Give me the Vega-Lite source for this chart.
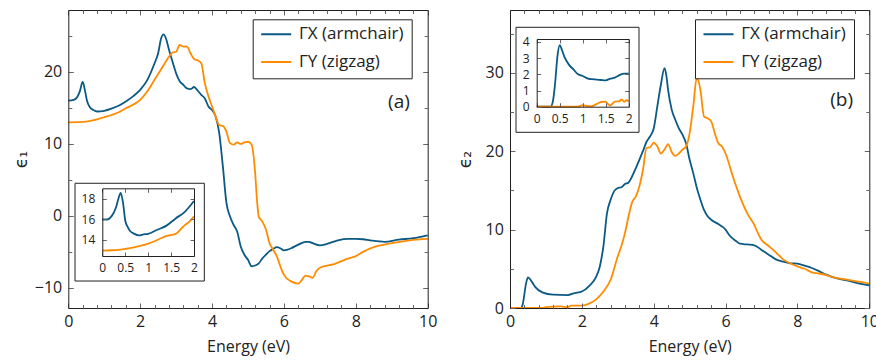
{
"$schema": "https://vega.github.io/schema/vega-lite/v6.json",
"width": 876, "height": 360, "autosize": {"type": "none"}, "padding": 0, "background": "white",
"datasets": {
"a": [
{"s":"ΓX (armchair)","e":0,"v":16.0},{"s":"ΓX (armchair)","e":0.15,"v":16.1},{"s":"ΓX (armchair)","e":0.25,"v":16.5},{"s":"ΓX (armchair)","e":0.32,"v":17.3},{"s":"ΓX (armchair)","e":0.4,"v":18.6},{"s":"ΓX (armchair)","e":0.46,"v":17.5},{"s":"ΓX (armchair)","e":0.52,"v":16.0},{"s":"ΓX (armchair)","e":0.6,"v":15.1},{"s":"ΓX (armchair)","e":0.7,"v":14.7},{"s":"ΓX (armchair)","e":0.8,"v":14.5},{"s":"ΓX (armchair)","e":1.0,"v":14.6},{"s":"ΓX (armchair)","e":1.2,"v":14.9},{"s":"ΓX (armchair)","e":1.4,"v":15.3},{"s":"ΓX (armchair)","e":1.6,"v":15.9},{"s":"ΓX (armchair)","e":1.8,"v":16.6},{"s":"ΓX (armchair)","e":2.0,"v":17.5},{"s":"ΓX (armchair)","e":2.2,"v":18.9},{"s":"ΓX (armchair)","e":2.4,"v":21.2},{"s":"ΓX (armchair)","e":2.5,"v":22.6},{"s":"ΓX (armchair)","e":2.58,"v":24.6},{"s":"ΓX (armchair)","e":2.65,"v":25.2},{"s":"ΓX (armchair)","e":2.72,"v":24.6},{"s":"ΓX (armchair)","e":2.8,"v":23.1},{"s":"ΓX (armchair)","e":2.9,"v":21.4},{"s":"ΓX (armchair)","e":3.0,"v":19.8},{"s":"ΓX (armchair)","e":3.1,"v":18.7},{"s":"ΓX (armchair)","e":3.2,"v":18.2},{"s":"ΓX (armchair)","e":3.3,"v":17.7},{"s":"ΓX (armchair)","e":3.4,"v":17.6},{"s":"ΓX (armchair)","e":3.5,"v":17.9},{"s":"ΓX (armchair)","e":3.6,"v":17.4},{"s":"ΓX (armchair)","e":3.7,"v":16.8},{"s":"ΓX (armchair)","e":3.8,"v":16.3},{"s":"ΓX (armchair)","e":3.9,"v":15.2},{"s":"ΓX (armchair)","e":4.0,"v":14.7},{"s":"ΓX (armchair)","e":4.1,"v":13.8},{"s":"ΓX (armchair)","e":4.2,"v":11.5},{"s":"ΓX (armchair)","e":4.3,"v":6.9},{"s":"ΓX (armchair)","e":4.4,"v":1.8},{"s":"ΓX (armchair)","e":4.5,"v":-0.1},{"s":"ΓX (armchair)","e":4.6,"v":-1.25},{"s":"ΓX (armchair)","e":4.7,"v":-2.2},{"s":"ΓX (armchair)","e":4.8,"v":-4.3},{"s":"ΓX (armchair)","e":4.9,"v":-5.4},{"s":"ΓX (armchair)","e":5.0,"v":-6.1},{"s":"ΓX (armchair)","e":5.1,"v":-7.0},{"s":"ΓX (armchair)","e":5.2,"v":-6.9},{"s":"ΓX (armchair)","e":5.3,"v":-6.6},{"s":"ΓX (armchair)","e":5.4,"v":-5.9},{"s":"ΓX (armchair)","e":5.5,"v":-5.4},{"s":"ΓX (armchair)","e":5.6,"v":-4.9},{"s":"ΓX (armchair)","e":5.7,"v":-4.6},{"s":"ΓX (armchair)","e":5.8,"v":-4.35},{"s":"ΓX (armchair)","e":5.9,"v":-4.5},{"s":"ΓX (armchair)","e":6.0,"v":-4.8},{"s":"ΓX (armchair)","e":6.1,"v":-4.7},{"s":"ΓX (armchair)","e":6.2,"v":-4.5},{"s":"ΓX (armchair)","e":6.4,"v":-4.0},{"s":"ΓX (armchair)","e":6.6,"v":-3.6},{"s":"ΓX (armchair)","e":6.7,"v":-3.6},{"s":"ΓX (armchair)","e":6.8,"v":-3.8},{"s":"ΓX (armchair)","e":7.0,"v":-4.1},{"s":"ΓX (armchair)","e":7.2,"v":-3.9},{"s":"ΓX (armchair)","e":7.5,"v":-3.4},{"s":"ΓX (armchair)","e":7.8,"v":-3.2},{"s":"ΓX (armchair)","e":8.0,"v":-3.2},{"s":"ΓX (armchair)","e":8.2,"v":-3.25},{"s":"ΓX (armchair)","e":8.4,"v":-3.4},{"s":"ΓX (armchair)","e":8.8,"v":-3.6},{"s":"ΓX (armchair)","e":9.2,"v":-3.3},{"s":"ΓX (armchair)","e":9.6,"v":-3.1},{"s":"ΓX (armchair)","e":10,"v":-2.7},
{"s":"ΓY (zigzag)","e":0,"v":13.0},{"s":"ΓY (zigzag)","e":0.5,"v":13.1},{"s":"ΓY (zigzag)","e":1.0,"v":13.7},{"s":"ΓY (zigzag)","e":1.4,"v":14.4},{"s":"ΓY (zigzag)","e":1.6,"v":14.95},{"s":"ΓY (zigzag)","e":2.0,"v":16.1},{"s":"ΓY (zigzag)","e":2.2,"v":17.3},{"s":"ΓY (zigzag)","e":2.4,"v":18.9},{"s":"ΓY (zigzag)","e":2.6,"v":20.5},{"s":"ΓY (zigzag)","e":2.8,"v":22.1},{"s":"ΓY (zigzag)","e":2.9,"v":22.7},{"s":"ΓY (zigzag)","e":3.0,"v":22.8},{"s":"ΓY (zigzag)","e":3.1,"v":23.75},{"s":"ΓY (zigzag)","e":3.2,"v":23.5},{"s":"ΓY (zigzag)","e":3.3,"v":23.5},{"s":"ΓY (zigzag)","e":3.4,"v":22.6},{"s":"ΓY (zigzag)","e":3.5,"v":21.8},{"s":"ΓY (zigzag)","e":3.6,"v":21.6},{"s":"ΓY (zigzag)","e":3.7,"v":21.2},{"s":"ΓY (zigzag)","e":3.8,"v":18.4},{"s":"ΓY (zigzag)","e":3.9,"v":16.6},{"s":"ΓY (zigzag)","e":4.0,"v":15.2},{"s":"ΓY (zigzag)","e":4.1,"v":13.8},{"s":"ΓY (zigzag)","e":4.2,"v":12.6},{"s":"ΓY (zigzag)","e":4.3,"v":12.5},{"s":"ΓY (zigzag)","e":4.4,"v":11.7},{"s":"ΓY (zigzag)","e":4.5,"v":10.1},{"s":"ΓY (zigzag)","e":4.6,"v":9.9},{"s":"ΓY (zigzag)","e":4.7,"v":10.2},{"s":"ΓY (zigzag)","e":4.8,"v":10.0},{"s":"ΓY (zigzag)","e":4.9,"v":10.2},{"s":"ΓY (zigzag)","e":5.0,"v":10.3},{"s":"ΓY (zigzag)","e":5.1,"v":9.9},{"s":"ΓY (zigzag)","e":5.2,"v":5.9},{"s":"ΓY (zigzag)","e":5.25,"v":2.2},{"s":"ΓY (zigzag)","e":5.3,"v":-0.1},{"s":"ΓY (zigzag)","e":5.4,"v":-0.8},{"s":"ΓY (zigzag)","e":5.5,"v":-1.9},{"s":"ΓY (zigzag)","e":5.6,"v":-3.8},{"s":"ΓY (zigzag)","e":5.7,"v":-4.7},{"s":"ΓY (zigzag)","e":5.8,"v":-5.6},{"s":"ΓY (zigzag)","e":5.9,"v":-7.0},{"s":"ΓY (zigzag)","e":6.0,"v":-8.2},{"s":"ΓY (zigzag)","e":6.2,"v":-9.1},{"s":"ΓY (zigzag)","e":6.4,"v":-9.4},{"s":"ΓY (zigzag)","e":6.5,"v":-8.9},{"s":"ΓY (zigzag)","e":6.6,"v":-8.3},{"s":"ΓY (zigzag)","e":6.7,"v":-8.4},{"s":"ΓY (zigzag)","e":6.8,"v":-8.6},{"s":"ΓY (zigzag)","e":6.9,"v":-7.7},{"s":"ΓY (zigzag)","e":7.0,"v":-7.2},{"s":"ΓY (zigzag)","e":7.4,"v":-6.7},{"s":"ΓY (zigzag)","e":7.8,"v":-5.9},{"s":"ΓY (zigzag)","e":8.0,"v":-5.6},{"s":"ΓY (zigzag)","e":8.2,"v":-5.0},{"s":"ΓY (zigzag)","e":8.5,"v":-4.35},{"s":"ΓY (zigzag)","e":8.8,"v":-4.0},{"s":"ΓY (zigzag)","e":9.0,"v":-3.8},{"s":"ΓY (zigzag)","e":9.5,"v":-3.4},{"s":"ΓY (zigzag)","e":10,"v":-3.2}
],
"ai": [
{"s":"ΓX (armchair)","e":0,"v":16.0},{"s":"ΓX (armchair)","e":0.1,"v":16.0},{"s":"ΓX (armchair)","e":0.2,"v":16.3},{"s":"ΓX (armchair)","e":0.3,"v":17.2},{"s":"ΓX (armchair)","e":0.35,"v":18.0},{"s":"ΓX (armchair)","e":0.4,"v":18.6},{"s":"ΓX (armchair)","e":0.45,"v":17.7},{"s":"ΓX (armchair)","e":0.5,"v":15.9},{"s":"ΓX (armchair)","e":0.55,"v":15.3},{"s":"ΓX (armchair)","e":0.6,"v":14.9},{"s":"ΓX (armchair)","e":0.7,"v":14.6},{"s":"ΓX (armchair)","e":0.8,"v":14.45},{"s":"ΓX (armchair)","e":0.9,"v":14.55},{"s":"ΓX (armchair)","e":1.0,"v":14.6},{"s":"ΓX (armchair)","e":1.2,"v":15.0},{"s":"ΓX (armchair)","e":1.4,"v":15.4},{"s":"ΓX (armchair)","e":1.6,"v":16.1},{"s":"ΓX (armchair)","e":1.8,"v":16.75},{"s":"ΓX (armchair)","e":2.0,"v":17.8},
{"s":"ΓY (zigzag)","e":0,"v":12.97},{"s":"ΓY (zigzag)","e":0.2,"v":13.0},{"s":"ΓY (zigzag)","e":0.4,"v":13.07},{"s":"ΓY (zigzag)","e":0.6,"v":13.2},{"s":"ΓY (zigzag)","e":0.8,"v":13.4},{"s":"ΓY (zigzag)","e":1.0,"v":13.65},{"s":"ΓY (zigzag)","e":1.2,"v":14.0},{"s":"ΓY (zigzag)","e":1.4,"v":14.4},{"s":"ΓY (zigzag)","e":1.6,"v":14.6},{"s":"ΓY (zigzag)","e":1.7,"v":15.0},{"s":"ΓY (zigzag)","e":1.8,"v":15.45},{"s":"ΓY (zigzag)","e":1.9,"v":15.8},{"s":"ΓY (zigzag)","e":2.0,"v":16.3}
],
"b": [
{"s":"ΓX (armchair)","e":0,"v":0},{"s":"ΓX (armchair)","e":0.3,"v":0},{"s":"ΓX (armchair)","e":0.35,"v":0.4},{"s":"ΓX (armchair)","e":0.45,"v":3.2},{"s":"ΓX (armchair)","e":0.5,"v":3.9},{"s":"ΓX (armchair)","e":0.6,"v":3.4},{"s":"ΓX (armchair)","e":0.7,"v":2.7},{"s":"ΓX (armchair)","e":0.9,"v":2.0},{"s":"ΓX (armchair)","e":1.2,"v":1.7},{"s":"ΓX (armchair)","e":1.6,"v":1.65},{"s":"ΓX (armchair)","e":1.8,"v":1.9},{"s":"ΓX (armchair)","e":2.0,"v":2.1},{"s":"ΓX (armchair)","e":2.2,"v":2.8},{"s":"ΓX (armchair)","e":2.4,"v":4.0},{"s":"ΓX (armchair)","e":2.5,"v":5.3},{"s":"ΓX (armchair)","e":2.6,"v":7.9},{"s":"ΓX (armchair)","e":2.7,"v":12.1},{"s":"ΓX (armchair)","e":2.8,"v":13.8},{"s":"ΓX (armchair)","e":2.9,"v":14.9},{"s":"ΓX (armchair)","e":3.0,"v":15.3},{"s":"ΓX (armchair)","e":3.1,"v":15.4},{"s":"ΓX (armchair)","e":3.2,"v":15.8},{"s":"ΓX (armchair)","e":3.3,"v":16.0},{"s":"ΓX (armchair)","e":3.4,"v":16.8},{"s":"ΓX (armchair)","e":3.5,"v":17.8},{"s":"ΓX (armchair)","e":3.6,"v":18.9},{"s":"ΓX (armchair)","e":3.7,"v":20.0},{"s":"ΓX (armchair)","e":3.8,"v":21.2},{"s":"ΓX (armchair)","e":3.9,"v":21.9},{"s":"ΓX (armchair)","e":4.0,"v":22.9},{"s":"ΓX (armchair)","e":4.1,"v":25.7},{"s":"ΓX (armchair)","e":4.2,"v":28.5},{"s":"ΓX (armchair)","e":4.3,"v":30.6},{"s":"ΓX (armchair)","e":4.35,"v":29.7},{"s":"ΓX (armchair)","e":4.4,"v":27.8},{"s":"ΓX (armchair)","e":4.5,"v":25.3},{"s":"ΓX (armchair)","e":4.6,"v":24.0},{"s":"ΓX (armchair)","e":4.7,"v":22.9},{"s":"ΓX (armchair)","e":4.8,"v":22.1},{"s":"ΓX (armchair)","e":4.9,"v":21.0},{"s":"ΓX (armchair)","e":5.0,"v":18.9},{"s":"ΓX (armchair)","e":5.1,"v":17.2},{"s":"ΓX (armchair)","e":5.2,"v":15.3},{"s":"ΓX (armchair)","e":5.3,"v":13.8},{"s":"ΓX (armchair)","e":5.4,"v":12.5},{"s":"ΓX (armchair)","e":5.5,"v":11.7},{"s":"ΓX (armchair)","e":5.6,"v":11.25},{"s":"ΓX (armchair)","e":5.8,"v":10.7},{"s":"ΓX (armchair)","e":5.9,"v":10.4},{"s":"ΓX (armchair)","e":6.0,"v":10.0},{"s":"ΓX (armchair)","e":6.1,"v":9.3},{"s":"ΓX (armchair)","e":6.3,"v":8.5},{"s":"ΓX (armchair)","e":6.4,"v":8.2},{"s":"ΓX (armchair)","e":6.6,"v":8.1},{"s":"ΓX (armchair)","e":6.8,"v":8.0},{"s":"ΓX (armchair)","e":7.0,"v":7.4},{"s":"ΓX (armchair)","e":7.2,"v":6.8},{"s":"ΓX (armchair)","e":7.4,"v":6.2},{"s":"ΓX (armchair)","e":7.6,"v":5.9},{"s":"ΓX (armchair)","e":7.8,"v":5.7},{"s":"ΓX (armchair)","e":8.0,"v":5.65},{"s":"ΓX (armchair)","e":8.2,"v":5.4},{"s":"ΓX (armchair)","e":8.4,"v":5.1},{"s":"ΓX (armchair)","e":8.6,"v":4.7},{"s":"ΓX (armchair)","e":8.8,"v":4.25},{"s":"ΓX (armchair)","e":9.0,"v":3.9},{"s":"ΓX (armchair)","e":9.4,"v":3.5},{"s":"ΓX (armchair)","e":9.8,"v":3.05},{"s":"ΓX (armchair)","e":10,"v":2.9},
{"s":"ΓY (zigzag)","e":0,"v":0},{"s":"ΓY (zigzag)","e":0.9,"v":0},{"s":"ΓY (zigzag)","e":1.0,"v":0.1},{"s":"ΓY (zigzag)","e":1.4,"v":0.2},{"s":"ΓY (zigzag)","e":1.6,"v":0.1},{"s":"ΓY (zigzag)","e":1.7,"v":0.3},{"s":"ΓY (zigzag)","e":2.0,"v":0.3},{"s":"ΓY (zigzag)","e":2.2,"v":0.55},{"s":"ΓY (zigzag)","e":2.4,"v":1.1},{"s":"ΓY (zigzag)","e":2.6,"v":2.1},{"s":"ΓY (zigzag)","e":2.8,"v":3.6},{"s":"ΓY (zigzag)","e":3.0,"v":6.6},{"s":"ΓY (zigzag)","e":3.1,"v":7.9},{"s":"ΓY (zigzag)","e":3.2,"v":9.55},{"s":"ΓY (zigzag)","e":3.3,"v":11.7},{"s":"ΓY (zigzag)","e":3.4,"v":13.5},{"s":"ΓY (zigzag)","e":3.5,"v":14.2},{"s":"ΓY (zigzag)","e":3.6,"v":15.5},{"s":"ΓY (zigzag)","e":3.7,"v":17.6},{"s":"ΓY (zigzag)","e":3.8,"v":20.4},{"s":"ΓY (zigzag)","e":3.9,"v":20.5},{"s":"ΓY (zigzag)","e":4.0,"v":21.1},{"s":"ΓY (zigzag)","e":4.1,"v":20.6},{"s":"ΓY (zigzag)","e":4.2,"v":19.7},{"s":"ΓY (zigzag)","e":4.3,"v":20.2},{"s":"ΓY (zigzag)","e":4.4,"v":20.9},{"s":"ΓY (zigzag)","e":4.5,"v":19.9},{"s":"ΓY (zigzag)","e":4.6,"v":19.4},{"s":"ΓY (zigzag)","e":4.7,"v":19.7},{"s":"ΓY (zigzag)","e":4.8,"v":20.2},{"s":"ΓY (zigzag)","e":4.9,"v":20.6},{"s":"ΓY (zigzag)","e":5.0,"v":22.3},{"s":"ΓY (zigzag)","e":5.1,"v":25.7},{"s":"ΓY (zigzag)","e":5.2,"v":29.4},{"s":"ΓY (zigzag)","e":5.3,"v":27.8},{"s":"ΓY (zigzag)","e":5.4,"v":24.4},{"s":"ΓY (zigzag)","e":5.5,"v":24.2},{"s":"ΓY (zigzag)","e":5.6,"v":23.8},{"s":"ΓY (zigzag)","e":5.7,"v":22.3},{"s":"ΓY (zigzag)","e":5.8,"v":21.0},{"s":"ΓY (zigzag)","e":5.9,"v":20.6},{"s":"ΓY (zigzag)","e":6.0,"v":19.7},{"s":"ΓY (zigzag)","e":6.2,"v":16.8},{"s":"ΓY (zigzag)","e":6.4,"v":14.2},{"s":"ΓY (zigzag)","e":6.6,"v":12.1},{"s":"ΓY (zigzag)","e":6.8,"v":10.6},{"s":"ΓY (zigzag)","e":6.9,"v":9.55},{"s":"ΓY (zigzag)","e":7.0,"v":8.7},{"s":"ΓY (zigzag)","e":7.2,"v":7.9},{"s":"ΓY (zigzag)","e":7.4,"v":7.1},{"s":"ΓY (zigzag)","e":7.6,"v":6.2},{"s":"ΓY (zigzag)","e":7.8,"v":5.7},{"s":"ΓY (zigzag)","e":8.0,"v":5.3},{"s":"ΓY (zigzag)","e":8.2,"v":5.0},{"s":"ΓY (zigzag)","e":8.4,"v":4.55},{"s":"ΓY (zigzag)","e":8.6,"v":4.4},{"s":"ΓY (zigzag)","e":8.8,"v":4.2},{"s":"ΓY (zigzag)","e":9.0,"v":3.9},{"s":"ΓY (zigzag)","e":9.4,"v":3.6},{"s":"ΓY (zigzag)","e":9.8,"v":3.3},{"s":"ΓY (zigzag)","e":10,"v":3.1}
],
"bi": [
{"s":"ΓX (armchair)","e":0,"v":0},{"s":"ΓX (armchair)","e":0.3,"v":0},{"s":"ΓX (armchair)","e":0.35,"v":0.3},{"s":"ΓX (armchair)","e":0.4,"v":1.45},{"s":"ΓX (armchair)","e":0.45,"v":3.1},{"s":"ΓX (armchair)","e":0.5,"v":3.8},{"s":"ΓX (armchair)","e":0.55,"v":3.5},{"s":"ΓX (armchair)","e":0.6,"v":3.1},{"s":"ΓX (armchair)","e":0.7,"v":2.6},{"s":"ΓX (armchair)","e":0.8,"v":2.3},{"s":"ΓX (armchair)","e":0.9,"v":2.0},{"s":"ΓX (armchair)","e":1.0,"v":1.9},{"s":"ΓX (armchair)","e":1.1,"v":1.75},{"s":"ΓX (armchair)","e":1.2,"v":1.7},{"s":"ΓX (armchair)","e":1.4,"v":1.65},{"s":"ΓX (armchair)","e":1.5,"v":1.63},{"s":"ΓX (armchair)","e":1.6,"v":1.73},{"s":"ΓX (armchair)","e":1.7,"v":1.8},{"s":"ΓX (armchair)","e":1.8,"v":1.95},{"s":"ΓX (armchair)","e":1.9,"v":2.05},{"s":"ΓX (armchair)","e":2.0,"v":2.05},
{"s":"ΓY (zigzag)","e":0,"v":0},{"s":"ΓY (zigzag)","e":0.9,"v":0},{"s":"ΓY (zigzag)","e":1.0,"v":0.1},{"s":"ΓY (zigzag)","e":1.1,"v":0.04},{"s":"ΓY (zigzag)","e":1.2,"v":0.04},{"s":"ΓY (zigzag)","e":1.3,"v":0.16},{"s":"ΓY (zigzag)","e":1.4,"v":0.29},{"s":"ΓY (zigzag)","e":1.5,"v":0.31},{"s":"ΓY (zigzag)","e":1.55,"v":0.16},{"s":"ΓY (zigzag)","e":1.6,"v":0.08},{"s":"ΓY (zigzag)","e":1.65,"v":0.2},{"s":"ΓY (zigzag)","e":1.7,"v":0.31},{"s":"ΓY (zigzag)","e":1.8,"v":0.35},{"s":"ΓY (zigzag)","e":1.85,"v":0.45},{"s":"ΓY (zigzag)","e":1.9,"v":0.3},{"s":"ΓY (zigzag)","e":1.95,"v":0.4},{"s":"ΓY (zigzag)","e":2.0,"v":0.33}
]
},
"config": {
"view": {"stroke": null},
"axis": {"domainColor": "#222", "domainWidth": 1, "tickColor": "#666", "tickWidth": 1, "labelFont": "Open Sans", "labelFontSize": 16, "labelColor": "#222", "titleFont": "Open Sans", "titleFontSize": 16, "titleFontWeight": "normal", "titleColor": "#222", "grid": false, "labelFlush": false, "labelOverlap": false},
"legend": {"labelFont": "Open Sans", "labelFontSize": 17, "labelColor": "#222", "symbolType": "stroke", "symbolSize": 900, "symbolStrokeWidth": 2, "clipHeight": 15, "rowPadding": 9.6, "padding": 7.5, "labelOffset": 6.7, "strokeColor": "#222", "fillColor": "white"}
},
"resolve": {"scale": {"x": "independent", "y": "independent", "color": "independent"}, "axis": {"x": "independent", "y": "independent"}, "legend": {"color": "independent"}},
"layer": [
{"data": {"name": "a"}, "mark": {"type": "line", "strokeWidth": 1.8, "interpolate": "monotone"},
 "encoding": {
  "x": {"field": "e", "type": "quantitative", "scale": {"domain": [0, 10], "range": [68.3, 427.7], "nice": false, "zero": false},
   "axis": {"orient": "bottom", "offset": -52, "values": [0,2,4,6,8,10], "tickSize": -5, "zindex": 1, "labelPadding": 10.5, "title": "Energy (eV)", "titlePadding": 9}},
  "y": {"field": "v", "type": "quantitative", "scale": {"domain": [-12.8, 28.6], "range": [308, 10], "nice": false, "zero": false},
   "axis": {"orient": "left", "offset": -68.3, "values": [-10,0,10,20], "tickSize": -5, "zindex": 1, "labelPadding": 11.6, "title": "ϵ₁", "titleFont": "DejaVu Sans", "titleFontSize": 17, "titlePadding": 4}},
  "color": {"field": "s", "type": "nominal", "scale": {"domain": ["ΓX (armchair)", "ΓY (zigzag)"], "range": ["#0b5a85", "#ff8c00"]},
   "legend": {"orient": "none", "legendX": 252.7, "legendY": 19.3, "title": null}}
 }},
{"data": {"values": [{"label": "(a)"}]}, "mark": {"type": "text", "font": "Open Sans", "fontSize": 19, "color": "#222", "align": "center", "baseline": "middle"},
 "encoding": {
  "x": {"datum": 9.2, "type": "quantitative", "scale": {"domain": [0, 10], "range": [68.3, 427.7], "nice": false, "zero": false},
   "axis": {"orient": "top", "offset": -10, "values": [0,2,4,6,8,10], "labels": false, "tickSize": -5, "zindex": 1, "title": null}},
  "y": {"datum": 15.8, "type": "quantitative", "scale": {"domain": [-12.8, 28.6], "range": [308, 10], "nice": false, "zero": false},
   "axis": {"orient": "right", "offset": -448.3, "values": [-10,0,10,20], "labels": false, "tickSize": -5, "zindex": 1, "title": null}},
  "text": {"field": "label"}
 }},
{"data": {"values": [{}]}, "mark": {"type": "text", "text": ""},
 "encoding": {
  "x": {"datum": 5, "type": "quantitative", "scale": {"domain": [0, 10], "range": [68.3, 427.7], "nice": false, "zero": false},
   "axis": {"orient": "bottom", "offset": -52, "values": [0.4,0.8,1.2,1.6,2.4,2.8,3.2,3.6,4.4,4.8], "labels": false, "domain": false, "tickSize": -3.5, "zindex": 1, "title": null}},
  "y": {"datum": 5, "type": "quantitative", "scale": {"domain": [-12.8, 28.6], "range": [308, 10], "nice": false, "zero": false},
   "axis": {"orient": "left", "offset": -68.3, "values": [-5,5,15,25], "labels": false, "domain": false, "tickSize": -3.5, "zindex": 1, "title": null}}
 }},
{"data": {"values": [{}]}, "mark": {"type": "text", "text": ""},
 "encoding": {
  "x": {"datum": 5, "type": "quantitative", "scale": {"domain": [0, 10], "range": [68.3, 427.7], "nice": false, "zero": false},
   "axis": {"orient": "bottom", "offset": -52, "values": [5.2,5.6,6.4,6.8,7.2,7.6,8.4,8.8,9.2,9.6], "labels": false, "domain": false, "tickSize": -3.5, "zindex": 1, "title": null}},
  "y": {"datum": 5, "type": "quantitative", "scale": {"domain": [-12.8, 28.6], "range": [308, 10], "nice": false, "zero": false},
   "axis": {"orient": "right", "offset": -448.3, "values": [-5,5,15,25], "labels": false, "domain": false, "tickSize": -3.5, "zindex": 1, "title": null}}
 }},
{"data": {"values": [{}]}, "mark": {"type": "text", "text": ""},
 "encoding": {
  "x": {"datum": 5, "type": "quantitative", "scale": {"domain": [0, 10], "range": [68.3, 427.7], "nice": false, "zero": false},
   "axis": {"orient": "top", "offset": -10, "values": [0.4,0.8,1.2,1.6,2.4,2.8,3.2,3.6,4.4,4.8], "labels": false, "domain": false, "tickSize": -3.5, "zindex": 1, "title": null}},
  "y": {"datum": 5, "type": "quantitative", "scale": {"domain": [-12.8, 28.6], "range": [308, 10], "nice": false, "zero": false}, "axis": null}
 }},
{"data": {"values": [{}]}, "mark": {"type": "text", "text": ""},
 "encoding": {
  "x": {"datum": 5, "type": "quantitative", "scale": {"domain": [0, 10], "range": [68.3, 427.7], "nice": false, "zero": false},
   "axis": {"orient": "top", "offset": -10, "values": [5.2,5.6,6.4,6.8,7.2,7.6,8.4,8.8,9.2,9.6], "labels": false, "domain": false, "tickSize": -3.5, "zindex": 1, "title": null}},
  "y": {"datum": 5, "type": "quantitative", "scale": {"domain": [-12.8, 28.6], "range": [308, 10], "nice": false, "zero": false}, "axis": null}
 }},
{"data": {"values": [{}]}, "mark": {"type": "rect", "fill": "white", "stroke": "#222", "strokeWidth": 1},
 "encoding": {
  "x": {"datum": -0.595, "type": "quantitative", "scale": {"domain": [0, 2], "range": [102.3, 194], "nice": false, "zero": false},
   "axis": {"orient": "top", "offset": -188.3, "values": [0,0.5,1,1.5,2], "labels": false, "tickSize": -4, "zindex": 2, "title": null}},
  "x2": {"datum": 2.225},
  "y": {"datum": 19.53, "type": "quantitative", "scale": {"domain": [12.44, 19.04], "range": [256, 188.3], "nice": false, "zero": false},
   "axis": {"orient": "right", "offset": -682, "values": [14,16,18], "labels": false, "tickSize": -4, "zindex": 2, "title": null}},
  "y2": {"datum": 10.0}
 }},
{"data": {"name": "ai"}, "mark": {"type": "line", "strokeWidth": 1.8, "interpolate": "monotone"},
 "encoding": {
  "x": {"field": "e", "type": "quantitative", "scale": {"domain": [0, 2], "range": [102.3, 194], "nice": false, "zero": false},
   "axis": {"orient": "bottom", "offset": -104, "values": [0,0.5,1,1.5,2], "format": "~g", "labelFontSize": 12, "labelPadding": 10.5, "tickSize": -4, "zindex": 2, "title": null}},
  "y": {"field": "v", "type": "quantitative", "scale": {"domain": [12.44, 19.04], "range": [256, 188.3], "nice": false, "zero": false},
   "axis": {"orient": "left", "offset": -102.3, "values": [14,16,18], "labelFontSize": 12, "labelPadding": 11.5, "tickSize": -4, "zindex": 2, "title": null}},
  "color": {"field": "s", "type": "nominal", "scale": {"domain": ["ΓX (armchair)", "ΓY (zigzag)"], "range": ["#0b5a85", "#ff8c00"]}, "legend": null}
 }},
{"data": {"name": "b"}, "mark": {"type": "line", "strokeWidth": 1.8, "interpolate": "monotone"},
 "encoding": {
  "x": {"field": "e", "type": "quantitative", "scale": {"domain": [0, 10], "range": [510, 869.3], "nice": false, "zero": false},
   "axis": {"orient": "bottom", "offset": -52, "values": [0,2,4,6,8,10], "tickSize": -5, "zindex": 1, "labelPadding": 10.5, "title": "Energy (eV)", "titlePadding": 9}},
  "y": {"field": "v", "type": "quantitative", "scale": {"domain": [0, 38], "range": [308, 10], "nice": false, "zero": false},
   "axis": {"orient": "left", "offset": -510, "values": [0,10,20,30], "tickSize": -5, "zindex": 1, "labelPadding": 11.6, "title": "ϵ₂", "titleFont": "DejaVu Sans", "titleFontSize": 17, "titlePadding": 10.5}},
  "color": {"field": "s", "type": "nominal", "scale": {"domain": ["ΓX (armchair)", "ΓY (zigzag)"], "range": ["#0b5a85", "#ff8c00"]},
   "legend": {"orient": "none", "legendX": 695, "legendY": 19.3, "title": null}}
 }},
{"data": {"values": [{"label": "(b)"}]}, "mark": {"type": "text", "font": "Open Sans", "fontSize": 19, "color": "#222", "align": "center", "baseline": "middle"},
 "encoding": {
  "x": {"datum": 9.23, "type": "quantitative", "scale": {"domain": [0, 10], "range": [510, 869.3], "nice": false, "zero": false},
   "axis": {"orient": "top", "offset": -10, "values": [0,2,4,6,8,10], "labels": false, "tickSize": -5, "zindex": 1, "title": null}},
  "y": {"datum": 26.5, "type": "quantitative", "scale": {"domain": [0, 38], "range": [308, 10], "nice": false, "zero": false},
   "axis": {"orient": "right", "offset": -6.7, "values": [0,10,20,30], "labels": false, "tickSize": -5, "zindex": 1, "title": null}},
  "text": {"field": "label"}
 }},
{"data": {"values": [{}]}, "mark": {"type": "text", "text": ""},
 "encoding": {
  "x": {"datum": 5, "type": "quantitative", "scale": {"domain": [0, 10], "range": [510, 869.3], "nice": false, "zero": false},
   "axis": {"orient": "bottom", "offset": -52, "values": [0.4,0.8,1.2,1.6,2.4,2.8,3.2,3.6,4.4,4.8], "labels": false, "domain": false, "tickSize": -3.5, "zindex": 1, "title": null}},
  "y": {"datum": 5, "type": "quantitative", "scale": {"domain": [0, 38], "range": [308, 10], "nice": false, "zero": false},
   "axis": {"orient": "left", "offset": -510, "values": [5,15,25,35], "labels": false, "domain": false, "tickSize": -3.5, "zindex": 1, "title": null}}
 }},
{"data": {"values": [{}]}, "mark": {"type": "text", "text": ""},
 "encoding": {
  "x": {"datum": 5, "type": "quantitative", "scale": {"domain": [0, 10], "range": [510, 869.3], "nice": false, "zero": false},
   "axis": {"orient": "bottom", "offset": -52, "values": [5.2,5.6,6.4,6.8,7.2,7.6,8.4,8.8,9.2,9.6], "labels": false, "domain": false, "tickSize": -3.5, "zindex": 1, "title": null}},
  "y": {"datum": 5, "type": "quantitative", "scale": {"domain": [0, 38], "range": [308, 10], "nice": false, "zero": false},
   "axis": {"orient": "right", "offset": -6.7, "values": [5,15,25,35], "labels": false, "domain": false, "tickSize": -3.5, "zindex": 1, "title": null}}
 }},
{"data": {"values": [{}]}, "mark": {"type": "text", "text": ""},
 "encoding": {
  "x": {"datum": 5, "type": "quantitative", "scale": {"domain": [0, 10], "range": [510, 869.3], "nice": false, "zero": false},
   "axis": {"orient": "top", "offset": -10, "values": [0.4,0.8,1.2,1.6,2.4,2.8,3.2,3.6,4.4,4.8], "labels": false, "domain": false, "tickSize": -3.5, "zindex": 1, "title": null}},
  "y": {"datum": 5, "type": "quantitative", "scale": {"domain": [0, 38], "range": [308, 10], "nice": false, "zero": false}, "axis": null}
 }},
{"data": {"values": [{}]}, "mark": {"type": "text", "text": ""},
 "encoding": {
  "x": {"datum": 5, "type": "quantitative", "scale": {"domain": [0, 10], "range": [510, 869.3], "nice": false, "zero": false},
   "axis": {"orient": "top", "offset": -10, "values": [5.2,5.6,6.4,6.8,7.2,7.6,8.4,8.8,9.2,9.6], "labels": false, "domain": false, "tickSize": -3.5, "zindex": 1, "title": null}},
  "y": {"datum": 5, "type": "quantitative", "scale": {"domain": [0, 38], "range": [308, 10], "nice": false, "zero": false}, "axis": null}
 }},
{"data": {"values": [{}]}, "mark": {"type": "rect", "fill": "white", "stroke": "#222", "strokeWidth": 1},
 "encoding": {
  "x": {"datum": -0.45, "type": "quantitative", "scale": {"domain": [0, 2], "range": [536.7, 628.7], "nice": false, "zero": false},
   "axis": {"orient": "top", "offset": -39, "values": [0,0.5,1,1.5,2], "labels": false, "tickSize": -4, "zindex": 2, "title": null}},
  "x2": {"datum": 2.224},
  "y": {"datum": 4.909, "type": "quantitative", "scale": {"domain": [0, 4.185], "range": [106.7, 39], "nice": false, "zero": false},
   "axis": {"orient": "right", "offset": -247.3, "values": [0,1,2,3,4], "labels": false, "tickSize": -4, "zindex": 2, "title": null}},
  "y2": {"datum": -1.583}
 }},
{"data": {"name": "bi"}, "mark": {"type": "line", "strokeWidth": 1.8, "interpolate": "monotone"},
 "encoding": {
  "x": {"field": "e", "type": "quantitative", "scale": {"domain": [0, 2], "range": [536.7, 628.7], "nice": false, "zero": false},
   "axis": {"orient": "bottom", "offset": -253.3, "values": [0,0.5,1,1.5,2], "format": "~g", "labelFontSize": 12, "labelPadding": 10.5, "tickSize": -4, "zindex": 2, "title": null}},
  "y": {"field": "v", "type": "quantitative", "scale": {"domain": [0, 4.185], "range": [106.7, 39], "nice": false, "zero": false},
   "axis": {"orient": "left", "offset": -536.7, "values": [0,1,2,3,4], "labelFontSize": 12, "labelPadding": 11.5, "tickSize": -4, "zindex": 2, "title": null}},
  "color": {"field": "s", "type": "nominal", "scale": {"domain": ["ΓX (armchair)", "ΓY (zigzag)"], "range": ["#0b5a85", "#ff8c00"]}, "legend": null}
 }}
]
}
